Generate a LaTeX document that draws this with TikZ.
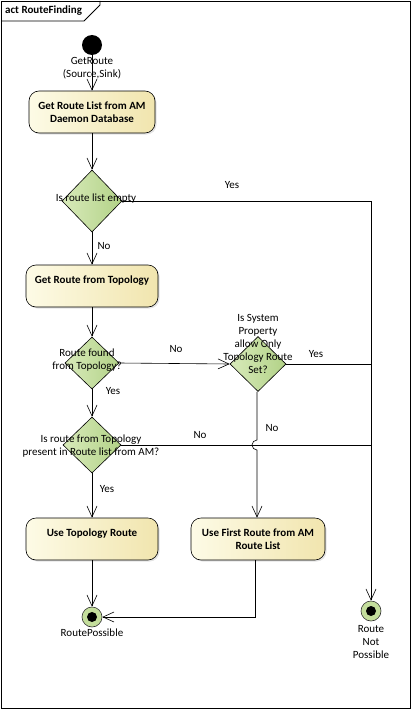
\documentclass[tikz,border=0pt]{standalone}
\usepackage{fontspec}
\setmainfont{Carlito}
\usetikzlibrary{shapes.geometric,arrows.meta,shadows,calc}
\definecolor{actL}{HTML}{FDFBE6}
\definecolor{actR}{HTML}{F1E5AE}
\definecolor{decL}{HTML}{D8EABA}
\definecolor{decR}{HTML}{B2D287}
\definecolor{finG}{HTML}{C4DE9C}
\tikzset{
  every node/.style={font=\fontsize{11}{13}\selectfont},
  action/.style={rectangle, rounded corners=10pt, draw=black, line width=0.6pt,
    left color=actL, right color=actR, align=center,
    font=\fontsize{11}{13}\selectfont\bfseries, inner sep=0pt,
    drop shadow={shadow xshift=1.5pt, shadow yshift=-1.5pt, fill=black!22}},
  decision/.style={diamond, draw=black, line width=0.6pt, left color=decL, right color=decR,
    inner sep=0pt},
  finalnode/.style={circle, draw=black!80, line width=0.6pt, fill=finG, minimum size=20pt, inner sep=0pt},
  dot/.style={circle, fill=black, minimum size=10pt, inner sep=0pt},
  lbl/.style={align=center, inner sep=0pt},
  flow/.style={draw=black, line width=0.6pt, -{Straight Barb[length=11pt,width=10pt,line width=0.6pt]}},
  plain/.style={draw=black, line width=0.6pt},
}
\begin{document}
\begin{tikzpicture}[x=1pt,y=-1pt]
\useasboundingbox (0,0) rectangle (411,709);
% frame
\draw[line width=0.8pt] (1,1) rectangle (410,708);
\draw[line width=0.8pt] (1,21) -- (84,21) -- (100,5) -- (100,1);
\node[anchor=west, inner sep=0pt, font=\fontsize{11}{13}\selectfont\bfseries] (title) at (5,11) {act RouteFinding};

% nodes
\node[circle, fill=black, minimum size=20pt, inner sep=0pt] (init) at (92,45) {};
\node[lbl] (initl) at (92,68) {GetRoute\\(Source,Sink)};

\node[action, minimum width=126pt, minimum height=42pt] (a1) at (92,112) {Get Route List from AM\\Daemon Database};

\node[decision, minimum width=60pt, minimum height=62pt] (d1) at (92,201) {};
\node[lbl] (d1l) at (96,199) {Is route list empty};

\node[action, minimum width=132pt, minimum height=42pt] (a2) at (92,286) {Get Route from Topology\\\phantom{X}};

\node[decision, minimum width=54pt, minimum height=52pt] (d2) at (92,363) {};
\node[lbl] (d2l) at (87,360) {Route found\\from Topology?};

\node[decision, minimum width=56pt, minimum height=55pt] (d3) at (258,364) {};
\node[lbl] (d3l) at (258,344) {Is System\\Property\\allow Only\\Topology Route\\Set?};

\node[decision, minimum width=58pt, minimum height=56pt] (d4) at (92,445) {};
\node[lbl] (d4l) at (91,446) {Is route from Topology\\present in Route list from AM?};

\node[action, minimum width=132pt, minimum height=42pt] (a3) at (92,539) {Use Topology Route\\\phantom{X}};
\node[action, minimum width=134pt, minimum height=42pt] (a4) at (258,539) {Use First Route from AM\\Route List};

\node[finalnode] (f1) at (92,617) {};
\node[dot] (f1d) at (f1) {};
\node[lbl] (f1l) at (92,633) {RoutePossible};

\node[finalnode] (f2) at (371,611) {};
\node[dot] (f2d) at (f2) {};
\node[lbl] (f2l) at (371,642) {Route\\Not\\Possible};

\coordinate (hop) at (257,445);

% connectors
\draw[flow] (init) -- (a1);
\draw[flow] (a1) -- (d1);
\draw[flow] (d1.east) -| (f2);
\draw[flow] (d1) -- (a2);
\draw[flow] (a2) -- (d2);
\draw[flow] (d2.east) -- (d3.west);
\draw[plain] (d3.east) -- (d3.east -| f2);
\draw[flow] (d2) -- (d4);
\draw[plain] (d4.east) -- (d4.east -| f2);
\draw[flow] (d3.south -| hop) -- ($(hop)+(0,-5)$) arc[start angle=90, end angle=270, radius=5pt] -- (a4.north -| hop);
\draw[flow] (d4) -- (a3);
\draw[flow] (a3) -- (f1);
\draw[flow] ([xshift=-3pt]a4.south) |- (f1.east);

% edge labels
\node[lbl] (y1) at (232,185) {Yes};
\node[lbl] (n1) at (104,246) {No};
\node[lbl] (n2) at (176,349) {No};
\node[lbl] (y3) at (316,354) {Yes};
\node[lbl] (y2) at (113,391) {Yes};
\node[lbl] (n3) at (272,428) {No};
\node[lbl] (n4) at (200,435) {No};
\node[lbl] (y4) at (107,489) {Yes};
\end{tikzpicture}
\end{document}
